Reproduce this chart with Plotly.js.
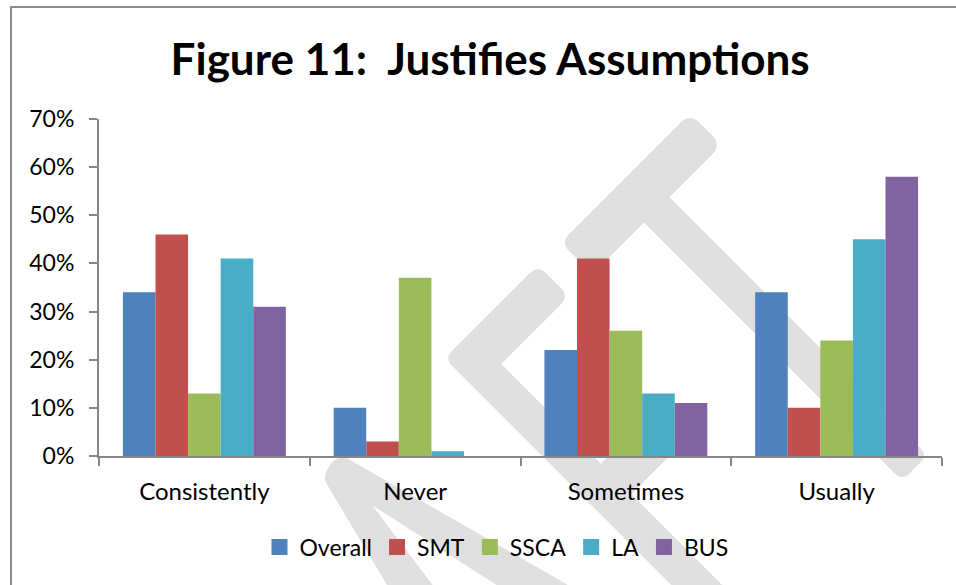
<!DOCTYPE html>
<html>
<head>
<meta charset="utf-8">
<script src="https://cdn.plot.ly/plotly-3.0.1.min.js"></script>
<style>
  html, body { margin: 0; padding: 0; background: #fff; overflow: hidden; }
  #wrap { position: relative; width: 956px; height: 585px; }
  #chart { width: 956px; height: 585px; }
  #frame { position: absolute; left: 10px; top: 6px; width: 980px; height: 620px;
           border-left: 2px solid #8c8c8c; border-top: 2px solid #8c8c8c; pointer-events: none; }
</style>
</head>
<body>
<div id="wrap">
  <div id="chart"></div>
  <div id="frame"></div>
</div>
<script>
// ---- data ----
const categories = ['Consistently', 'Never', 'Sometimes', 'Usually'];
const seriesNames = ['Overall', 'SMT', 'SSCA', 'LA', 'BUS'];
const overall = [0.34, 0.10, 0.22, 0.34];
const smt     = [0.46, 0.03, 0.41, 0.10];
const ssca    = [0.13, 0.37, 0.26, 0.24];
const la      = [0.41, 0.01, 0.13, 0.45];
const bus     = [0.31, 0.00, 0.11, 0.58];
const yTickVals = [0, 0.1, 0.2, 0.3, 0.4, 0.5, 0.6, 0.7];
const yTickText = ['0%', '10%', '20%', '30%', '40%', '50%', '60%', '70%'];

const colors = ['#4F81BD', '#C0504D', '#9BBB59', '#4BACC6', '#8064A2'];
const values = [overall, smt, ssca, la, bus];

const traces = values.map((vals, i) => ({
  type: 'bar',
  name: seriesNames[i],
  x: categories,
  y: vals,
  marker: { color: colors[i], line: { width: 0 } },
  showlegend: false,
  legendgroup: seriesNames[i],
  hoverinfo: 'x+y+name'
}));
// legend entries with larger square keys
const legendTraces = seriesNames.map((nm, i) => ({
  type: 'scatter', mode: 'markers', name: nm,
  x: [categories[0]], y: [null],
  marker: { symbol: 'square', size: 16, color: colors[i] },
  legendgroup: nm, showlegend: true, hoverinfo: 'skip'
}));

// ---- watermark (decorative, pixel geometry converted to paper coords) ----
const L = 99, R = 14, T = 119, B = 129, W = 956, H = 585;
const PW = W - L - R, PH = H - T - B;
function toPaper(p) { return [(p[0] - L) / PW, (H - B - p[1]) / PH]; }
const S2 = Math.SQRT2;
function uv(u, v) { return [(S2 * (u + v) + 803) / 2, (S2 * (v - u) + 803) / 2]; }

function roundedPath(pts) {
  const n = pts.length;
  let d = '';
  for (let i = 0; i < n; i++) {
    const prev = pts[(i - 1 + n) % n], cur = pts[i], next = pts[(i + 1) % n];
    const r = cur[2] || 0;
    const dx1 = prev[0] - cur[0], dy1 = prev[1] - cur[1];
    const dx2 = next[0] - cur[0], dy2 = next[1] - cur[1];
    const l1 = Math.hypot(dx1, dy1), l2 = Math.hypot(dx2, dy2);
    const a = [cur[0] + dx1 / l1 * r, cur[1] + dy1 / l1 * r];
    const b = [cur[0] + dx2 / l2 * r, cur[1] + dy2 / l2 * r];
    const pa = toPaper(a), pc = toPaper(cur), pb = toPaper(b);
    d += (i === 0 ? 'M' : 'L') + pa[0].toFixed(5) + ',' + pa[1].toFixed(5);
    if (r > 0) d += 'Q' + pc[0].toFixed(5) + ',' + pc[1].toFixed(5) + ' ' + pb[0].toFixed(5) + ',' + pb[1].toFixed(5);
  }
  return d + 'Z';
}
function uvPts(list) { return list.map(q => { const p = uv(q[0], q[1]); return [p[0], p[1], q[2]]; }); }

const wmT = uvPts([[225, 0, 12], [408, 0, 14], [408, 45, 14], [334, 45, 0], [334, 410, 10], [298, 410, 10], [298, 45, 0], [225, 45, 12]]);
const wmF = uvPts([[61, 0, 10], [193, 0, 12], [193, 44, 12], [97, 44, 0], [97, 185, 0], [165, 185, 8], [165, 228, 8], [97, 228, 0], [97, 420, 0], [61, 420, 0]]);
const wmA = [[396, 600, 0], [323, 478, 8], [333, 459, 8], [345, 457, 4], [594, 600, 0], [520, 600, 0], [372, 505, 0], [444, 600, 0]];

const wmColor = '#dfdfdf';
const shapes = [wmT, wmF, wmA].map(p => ({
  type: 'path', xref: 'paper', yref: 'paper', layer: 'below',
  path: roundedPath(p), fillcolor: wmColor, line: { width: 0 }
}));

const font = 'Lato, "Open Sans", sans-serif';

const layout = {
  width: W, height: H,
  margin: { l: L, r: R, t: T, b: B },
  paper_bgcolor: '#ffffff',
  plot_bgcolor: 'rgba(0,0,0,0)',
  font: { family: font, color: '#000000', size: 23 },
  title: {
    text: '<b>Figure 11:\u00a0 Justifies Assumptions</b>',
    font: { family: font, size: 44, color: '#000000' },
    x: 0.464, xref: 'paper', xanchor: 'center',
    y: 1 - 60 / H, yref: 'container', yanchor: 'middle'
  },
  barmode: 'group',
  bargap: 0.227,
  bargroupgap: 0,
  showlegend: true,
  legend: {
    orientation: 'h', x: 0.4715, xanchor: 'center', y: (456 - 547) / PH, yanchor: 'middle',
    font: { family: font, size: 23, color: '#000000' },
    itemgap: 0, traceorder: 'normal', bgcolor: 'rgba(0,0,0,0)'
  },
  xaxis: {
    type: 'category',
    categoryorder: 'array', categoryarray: categories,
    showgrid: false, zeroline: false,
    showline: true, linecolor: '#868686', linewidth: 2,
    ticks: 'outside', tickson: 'boundaries', ticklen: 8, tickcolor: '#868686', tickwidth: 2,
    tickfont: { family: font, size: 24, color: '#000000' },
    ticklabelstandoff: 13,
    fixedrange: true
  },
  yaxis: {
    range: [0, 0.7],
    tickvals: yTickVals, ticktext: yTickText,
    showgrid: false, zeroline: false,
    showline: true, linecolor: '#868686', linewidth: 2,
    ticks: 'outside', ticklen: 8, tickcolor: '#868686', tickwidth: 2,
    tickfont: { family: font, size: 23, color: '#000000' },
    ticklabelstandoff: 10,
    fixedrange: true
  },
  shapes: shapes
};

Plotly.newPlot('chart', traces.concat(legendTraces), layout, { displayModeBar: false, staticPlot: true });
</script>
</body>
</html>
